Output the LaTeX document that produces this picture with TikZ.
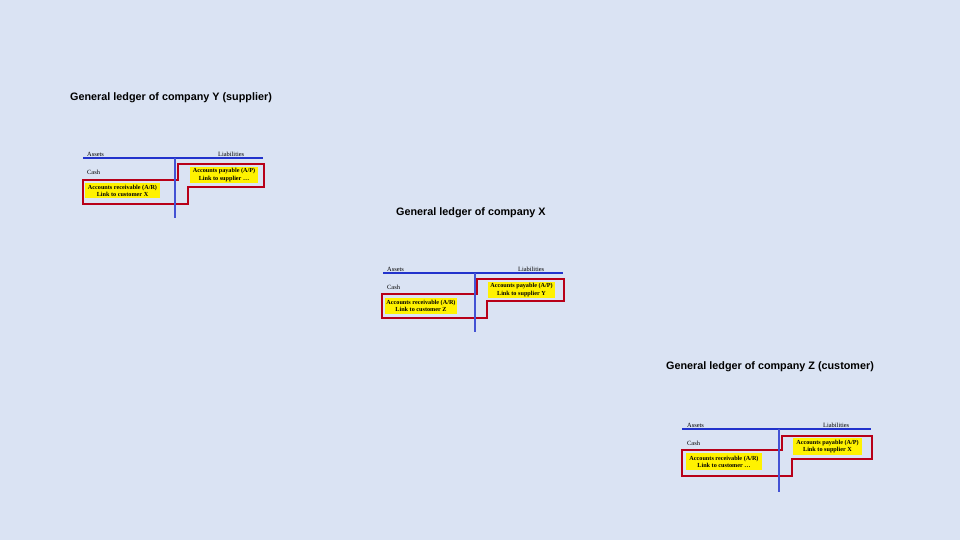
\documentclass[tikz,border=0pt]{standalone}
\usepackage{fontspec}
\setmainfont{Liberation Serif}
\newfontfamily\headfont{Liberation Sans}
\usetikzlibrary{positioning}
\definecolor{slide}{HTML}{DAE3F3}
\definecolor{ledgerblue}{HTML}{2233CC}
\definecolor{ledgerred}{HTML}{B80018}

\begin{document}
\begin{tikzpicture}[
        x=1pt, y=-1pt,
        title/.style={anchor=west, inner sep=0pt, font=\headfont\bfseries\fontsize{10.8}{12}\selectfont},
        head/.style={anchor=west, inner sep=0pt, font=\fontsize{6.4}{7}\selectfont},
        acct/.style={anchor=west, inner sep=0pt, font=\fontsize{6.4}{7}\selectfont},
        tbox/.style={fill=yellow, align=center, inner sep=0pt, font=\bfseries\fontsize{6.2}{7.2}\selectfont},
        tline/.style={draw=ledgerblue, line width=1.4pt},
        vline/.style={draw=ledgerblue!85!white, line width=1.3pt},
        outline/.style={draw=ledgerred, line width=1.2pt, line join=miter}
    ]
    \fill[slide] (0,0) rectangle (960,540);
    \useasboundingbox (0,0) rectangle (960,540);

    % company Y
    \node[title] (ytitle) at (70,98) {General ledger of company Y (supplier)};
    \begin{scope}[shift={(83,158)}]
        \draw[outline] (0,22) -- (95,22) -- (95,6) -- (181,6) -- (181,29) -- (105,29) -- (105,46) -- (0,46) -- cycle;
        \node[tbox, minimum width=75pt, minimum height=15pt] (yar) at (39.5,32.5) {Accounts receivable (A/R)\\Link to customer X};
        \node[tbox, minimum width=68pt, minimum height=16pt] (yap) at (141,17) {Accounts payable (A/P)\\Link to supplier \dots};
        \node[head] (yassets) at (4,-4) {Assets};
        \node[head] (yliab) at (135,-4) {Liabilities};
        \node[acct] (ycash) at (4,14) {Cash};
        \coordinate (yl) at (0,0);
        \coordinate (yr) at (180,0);
        \coordinate (yt) at (92,0);
        \coordinate (yb) at (92,60);
        \draw[tline] (yl) -- (yr);
        \draw[vline] (yt) -- (yb);
    \end{scope}

    % company X
    \node[title] (xtitle) at (396,213) {General ledger of company X};
    \begin{scope}[shift={(383,273)}]
        \draw[outline] (-1,21) -- (94,21) -- (94,6) -- (181,6) -- (181,28) -- (104,28) -- (104,45) -- (-1,45) -- cycle;
        \node[tbox, minimum width=72pt, minimum height=16pt] (xar) at (38,33) {Accounts receivable (A/R)\\Link to customer Z};
        \node[tbox, minimum width=67pt, minimum height=16pt] (xap) at (138.5,17) {Accounts payable (A/P)\\Link to supplier Y};
        \node[head] (xassets) at (4,-4) {Assets};
        \node[head] (xliab) at (135,-4) {Liabilities};
        \node[acct] (xcash) at (4,14) {Cash};
        \coordinate (xl) at (0,0);
        \coordinate (xr) at (180,0);
        \coordinate (xt) at (92,0);
        \coordinate (xb) at (92,59);
        \draw[tline] (xl) -- (xr);
        \draw[vline] (xt) -- (xb);
    \end{scope}

    % company Z
    \node[title] (ztitle) at (666,367) {General ledger of company Z (customer)};
    \begin{scope}[shift={(682,429)}]
        \draw[outline] (0,21) -- (100,21) -- (100,7) -- (190,7) -- (190,30) -- (110,30) -- (110,47) -- (0,47) -- cycle;
        \node[tbox, minimum width=76pt, minimum height=17pt] (zar) at (42,32.5) {Accounts receivable (A/R)\\Link to customer \dots};
        \node[tbox, minimum width=69pt, minimum height=17pt] (zap) at (145.5,17.5) {Accounts payable (A/P)\\Link to supplier X};
        \node[head] (zassets) at (5,-4) {Assets};
        \node[head] (zliab) at (141,-4) {Liabilities};
        \node[acct] (zcash) at (5,14) {Cash};
        \coordinate (zl) at (0,0);
        \coordinate (zr) at (189,0);
        \coordinate (zt) at (97,0);
        \coordinate (zb) at (97,63);
        \draw[tline] (zl) -- (zr);
        \draw[vline] (zt) -- (zb);
    \end{scope}
\end{tikzpicture}
\end{document}
